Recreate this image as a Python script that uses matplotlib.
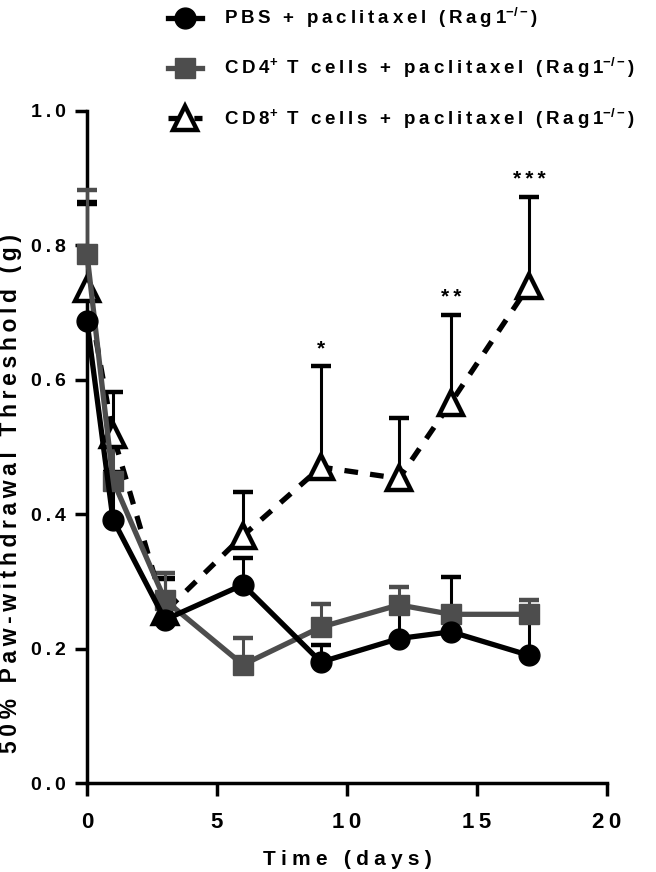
import numpy as np
import matplotlib.pyplot as plt

plt.rcParams['font.family'] = ['Liberation Sans', 'DejaVu Sans']
plt.rcParams['font.weight'] = 'bold'
plt.rcParams['mathtext.fontset'] = 'custom'
plt.rcParams['mathtext.rm'] = 'Liberation Sans:bold'
plt.rcParams['mathtext.bf'] = 'Liberation Sans:bold'

days = [0, 1, 3, 6, 9, 12, 14, 17]

# PBS + paclitaxel
pbs = [0.687, 0.392, 0.243, 0.295, 0.180, 0.215, 0.225, 0.190]
pbs_err = [0.175, 0.07, 0.06, 0.04, 0.025, 0.042, 0.082, 0.055]

# CD4+ T cells + paclitaxel
cd4 = [0.787, 0.450, 0.272, 0.176, 0.232, 0.265, 0.251, 0.251]
cd4_err = [0.095, 0.05, 0.04, 0.040, 0.035, 0.027, 0.010, 0.021]

# CD8+ T cells + paclitaxel
cd8 = [0.735, 0.518, 0.255, 0.368, 0.470, 0.453, 0.566, 0.740]
cd8_err = [0.13, 0.064, 0.05, 0.065, 0.150, 0.090, 0.130, 0.132]

stars = {9: '*', 14: '**', 17: '***'}

THIN = '\u2009'
WIDE = '\u2005'


def sp(s, gap=THIN):
    # wide letter spacing like the original figure
    return gap.join(s)


fig = plt.figure(figsize=(6.56, 8.72), dpi=100)
ax = fig.add_axes([0.1326, 0.102, 0.7927, 0.771])

grey = '#4d4d4d'


def upper_bars(y, err, col, z):
    x = np.array(days)
    top = np.array(y) + np.array(err)
    ax.vlines(x, y, top, colors=col, lw=2.2, zorder=z, clip_on=False)
    ax.plot(x, top, ls='none', marker='_', ms=15, mew=3.2, color=col,
            zorder=z, clip_on=False)


upper_bars(cd8, cd8_err, 'black', 2)
upper_bars(pbs, pbs_err, 'black', 3)
upper_bars(cd4, cd4_err, grey, 3)

l3, = ax.plot(days, cd8, color='black', lw=3.8, ls=(0, (2.6, 2.3)),
              marker='^', ms=17, mfc='white', mec='black', mew=3.2,
              zorder=4, clip_on=False)
l2, = ax.plot(days, cd4, color=grey, lw=3.8, marker='s', ms=14,
              mfc=grey, mec=grey, zorder=5, clip_on=False)
l1, = ax.plot(days, pbs, color='black', lw=3.8, marker='o', ms=15,
              mfc='black', mec='black', zorder=6, clip_on=False)

for d, s in stars.items():
    i = days.index(d)
    ax.text(d, cd8[i] + cd8_err[i] + 0.012, sp(s), ha='center', va='bottom',
            fontsize=15, fontweight='bold')

ax.set_xlim(0, 20)
ax.set_ylim(0, 1.0)
ax.set_xticks([0, 5, 10, 15, 20])
ax.set_xticklabels([sp(t) for t in ['0', '5', '10', '15', '20']], fontsize=16)
ax.set_yticks([0.0, 0.2, 0.4, 0.6, 0.8, 1.0])
ax.set_yticklabels([sp(t) for t in ['0.0', '0.2', '0.4', '0.6', '0.8', '1.0']],
                   fontsize=14)
for s in ['top', 'right']:
    ax.spines[s].set_visible(False)
for s in ['left', 'bottom']:
    ax.spines[s].set_linewidth(2.5)
ax.tick_params(direction='out', length=9, width=2.5, pad=6)
ax.tick_params(axis='x', pad=12)
ax.set_xlabel(sp('Time (days)', WIDE), fontsize=15, fontweight='bold',
              labelpad=12)
ax.set_ylabel(sp('50% Paw-withdrawal Threshold (g)', THIN), fontsize=16.5,
              fontweight='bold')
ax.yaxis.set_label_coords(-0.125, 0.43)

sup = '$^{\\mathbf{-/-}}$'
labels = [sp('PBS + paclitaxel (Rag1') + sup + ')',
          sp('CD4') + '$^{\\mathbf{+}}$' + sp(' T cells + paclitaxel (Rag1') + sup + ')',
          sp('CD8') + '$^{\\mathbf{+}}$' + sp(' T cells + paclitaxel (Rag1') + sup + ')']
fig.legend([l1, l2, l3], labels,
           loc='upper left', bbox_to_anchor=(0.23, 1.013), frameon=False,
           fontsize=13.5, labelspacing=1.35, handlelength=1.8, handletextpad=1.2)

fig.savefig('out.png', dpi=100)
